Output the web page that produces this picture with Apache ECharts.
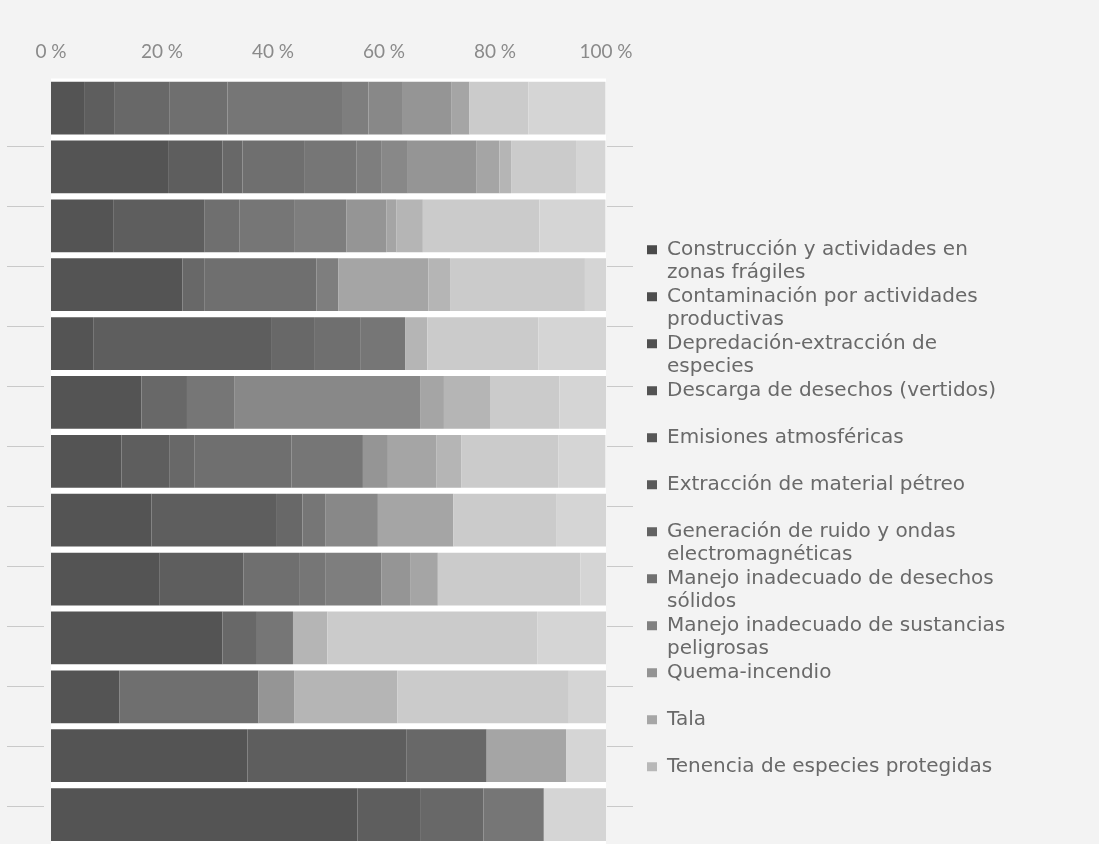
<!DOCTYPE html>
<html>
<head>
<meta charset="utf-8">
<style>
  html, body { margin: 0; padding: 0; background: #f3f3f3; }
  #chart { width: 1099px; height: 844px; }
</style>
<script src="https://cdn.jsdelivr.net/npm/echarts@6/dist/echarts.min.js"></script>
</head>
<body>
<div id="chart"></div>
<script>
// Rows of the chart (top to bottom); the rows carry no visible labels.
const categories = ['1', '2', '3', '4', '5', '6', '7', '8', '9', '10', '11', '12', '13'];

const seriesNames = [
  'Construcción y actividades en zonas frágiles',
  'Contaminación por actividades productivas',
  'Depredación-extracción de especies',
  'Descarga de desechos (vertidos)',
  'Emisiones atmosféricas',
  'Extracción de material pétreo',
  'Generación de ruido y ondas electromagnéticas',
  'Manejo inadecuado de desechos sólidos',
  'Manejo inadecuado de sustancias peligrosas',
  'Quema-incendio',
  'Tala',
  'Tenencia de especies protegidas'
];

// Legend text, wrapped the way it is printed.
const legendLabels = [
  'Construcción y actividades en\nzonas frágiles',
  'Contaminación por actividades\nproductivas',
  'Depredación-extracción de\nespecies',
  'Descarga de desechos (vertidos)',
  'Emisiones atmosféricas',
  'Extracción de material pétreo',
  'Generación de ruido y ondas\nelectromagnéticas',
  'Manejo inadecuado de desechos\nsólidos',
  'Manejo inadecuado de sustancias\npeligrosas',
  'Quema-incendio',
  'Tala',
  'Tenencia de especies protegidas'
];

const tickLabels = ['0 %', '20 %', '40 %', '60 %', '80 %', '100 %'];

// Share (%) of each activity in every row
const construccion  = [6.1, 21.1, 11.2, 23.7, 7.7, 16.3, 12.7, 18.1, 19.6, 30.9, 12.3, 35.4, 55.2];
const contaminacion = [5.4, 9.8, 16.4, 0, 32.1, 0, 8.7, 22.6, 15.1, 0, 0, 28.6, 11.3];
const depredacion   = [9.9, 3.6, 0, 3.9, 7.6, 8.2, 4.5, 4.6, 0, 6.2, 0, 14.5, 11.4];
const descarga      = [10.4, 11.1, 6.4, 20.2, 8.3, 0, 17.4, 0, 10.0, 0, 25.1, 0, 0];
const emisiones     = [20.8, 9.4, 9.8, 0, 8.1, 8.5, 12.9, 4.1, 4.7, 6.5, 0, 0, 10.9];
const extraccion    = [4.6, 4.6, 9.4, 4.0, 0, 0, 0, 0, 10.1, 0, 0, 0, 0];
const ruido         = [6.2, 4.7, 0, 0, 0, 33.5, 0, 9.5, 0, 0, 0, 0, 0];
const desechos      = [8.8, 12.3, 7.2, 0, 0, 0, 4.5, 0, 5.2, 0, 6.4, 0, 0];
const sustancias    = [3.2, 4.2, 1.8, 16.2, 0, 4.3, 8.7, 13.6, 5.0, 0, 0, 14.3, 0];
const quema         = [0, 2.1, 4.8, 3.9, 4.0, 8.3, 4.5, 0, 0, 6.2, 18.6, 0, 0];
const tala          = [10.6, 11.7, 21.0, 24.3, 20.0, 12.5, 17.5, 18.5, 25.7, 37.8, 30.9, 0, 0];
const tenencia      = [13.9, 5.3, 11.9, 3.8, 12.2, 8.4, 8.5, 9.0, 4.6, 12.5, 6.8, 7.3, 11.3];

const seriesValues = [construccion, contaminacion, depredacion, descarga, emisiones, extraccion,
                      ruido, desechos, sustancias, quema, tala, tenencia];

// Gray ramp, darkest first
const palette = ['#545454', '#5e5e5e', '#686868', '#6f6f6f', '#767676', '#7e7e7e',
                 '#888888', '#959595', '#a5a5a5', '#b5b5b5', '#cbcbcb', '#d5d5d5'];
const markerColors = ['#4a4a4a', '#4d4d4d', '#505050', '#535353', '#565656', '#5a5a5a',
                      '#626262', '#707070', '#808080', '#939393', '#a6a6a6', '#b8b8b8'];

const LEGEND_FONT = '"DejaVu Sans", Lato, sans-serif';
const AXIS_FONT = 'Lato, "Open Sans", sans-serif';
const textGray = '#696969';

const rich = {
  sp: { width: 10, lineHeight: 23.5 },
  sp2: { width: 20, lineHeight: 23.5 },
  t: { fontFamily: LEGEND_FONT, fontSize: 20, color: textGray, lineHeight: 23.5 }
};
markerColors.forEach((c, i) => {
  rich['m' + i] = { width: 10, height: 9, backgroundColor: c, lineHeight: 23.5 };
});

const chart = echarts.init(document.getElementById('chart'), null, { renderer: 'canvas' });

const option = {
  backgroundColor: '#f3f3f3',
  animation: false,
  grid: [
    // stacked bars
    { left: 51, width: 555, top: 78.6, height: 769.2, show: true, backgroundColor: '#ffffff', borderWidth: 0 },
    // short guide lines on the left
    { left: 7, width: 37, top: 146.7, height: 660 },
    // short guide lines on the right
    { left: 607, width: 26, top: 146.7, height: 660 }
  ],
  xAxis: [
    {
      gridIndex: 0, type: 'value', min: 0, max: 100, interval: 20, position: 'top',
      axisLine: { show: false }, axisTick: { show: false }, splitLine: { show: false },
      axisLabel: {
        margin: 17, fontFamily: AXIS_FONT, fontSize: 19, color: '#8a8a8a',
        formatter: v => tickLabels[Math.round(v / 20)]
      }
    },
    { gridIndex: 1, type: 'value', min: 0, max: 1, show: false },
    { gridIndex: 2, type: 'value', min: 0, max: 1, show: false }
  ],
  yAxis: [
    {
      gridIndex: 0, type: 'category', data: categories, inverse: true,
      axisLine: { show: false }, axisTick: { show: false }, axisLabel: { show: false },
      splitLine: { show: false }
    },
    {
      gridIndex: 1, type: 'value', min: 0, max: 11, interval: 1,
      axisLine: { show: false }, axisTick: { show: false }, axisLabel: { show: false },
      splitLine: { show: true, lineStyle: { color: '#c9c9c9', width: 1 } }
    },
    {
      gridIndex: 2, type: 'value', min: 0, max: 11, interval: 1,
      axisLine: { show: false }, axisTick: { show: false }, axisLabel: { show: false },
      splitLine: { show: true, lineStyle: { color: '#c9c9c9', width: 1 } }
    }
  ],
  legend: {
    data: seriesNames,
    orient: 'vertical',
    left: 642,
    top: 238,
    itemGap: 0,
    padding: 0,
    icon: 'rect',
    itemWidth: 0,
    itemHeight: 0,
    selectedMode: false,
    formatter: function (name) {
      const i = seriesNames.indexOf(name);
      const lines = legendLabels[i].split('\n');
      let s = '{m' + i + '|}{sp|}{t|' + lines[0] + '}\n';
      s += lines[1] ? '{sp2|}{t|' + lines[1] + '}' : '{t| }';
      return s;
    },
    textStyle: { fontFamily: LEGEND_FONT, fontSize: 20, color: textGray, lineHeight: 23.5, rich: rich }
  },
  series: seriesNames.map((name, i) => ({
    name: name,
    type: 'bar',
    stack: 'total',
    xAxisIndex: 0,
    yAxisIndex: 0,
    barCategoryGap: '10.4%',
    silent: true,
    itemStyle: { color: palette[i] },
    data: seriesValues[i]
  }))
};

chart.setOption(option);
</script>
</body>
</html>
